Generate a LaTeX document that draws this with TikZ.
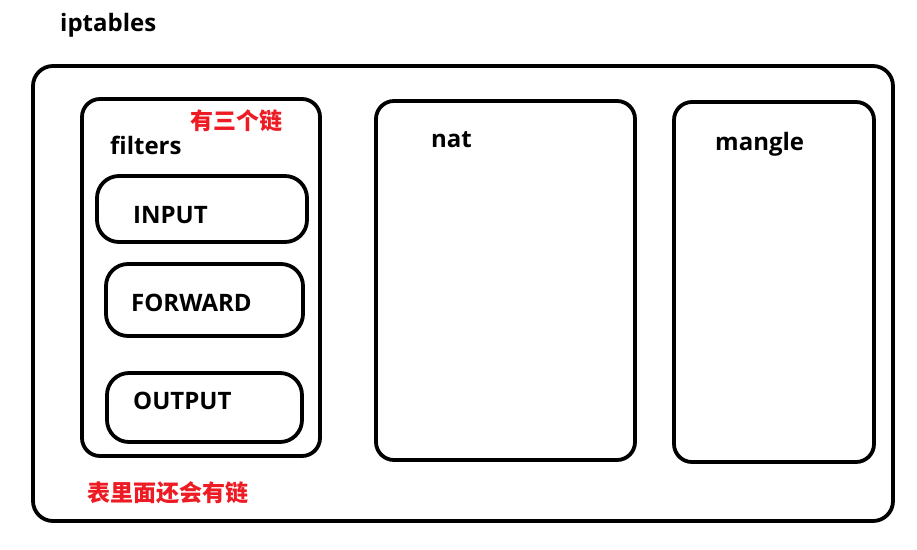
\documentclass[tikz,border=0pt]{standalone}
\usepackage{fontspec}
\setmainfont{Open Sans}
\newfontfamily\cjk{Noto Sans CJK SC}
\definecolor{mspred}{HTML}{ED1C24}
\begin{document}
\begin{tikzpicture}[x=1pt,y=-1pt,
  box/.style={draw=black,line width=3.8pt,rounded corners=#1},
  box/.default=18pt,
  lbl/.style={inner sep=0pt,anchor=base west,font=\fontsize{24}{28}\selectfont\bfseries},
  note/.style={inner sep=0pt,text=mspred,font=\fontsize{23}{27}\selectfont\cjk\bfseries}]
\useasboundingbox (0,0) rectangle (917,549);
% outer iptables box
\draw[box=20pt] (33,66) rectangle (893,521);
\node[lbl] (iptables) at (60,31) {iptables};
% filters table
\draw[box] (82,99) rectangle (320,456);
\node[lbl] (filters) at (110,154) {filters};
\node[note] (three) at (236,121) {有三个链};
% chains
\draw[box=22pt] (97,176) rectangle (307,242);
\node[lbl] (input) at (133,223) {INPUT};
\draw[box=22pt] (106,264) rectangle (303,336);
\node[lbl] (forward) at (131,311) {FORWARD};
\draw[box=22pt] (107,373) rectangle (302,442);
\node[lbl] (output) at (133,409) {OUTPUT};
% nat table
\draw[box] (376,101) rectangle (635,460);
\node[lbl] (nat) at (431,147) {nat};
% mangle table
\draw[box] (674,102) rectangle (874,462);
\node[lbl] (mangle) at (715,150) {mangle};
% note
\node[note] (more) at (167.5,493) {表里面还会有链};
\end{tikzpicture}
\end{document}
